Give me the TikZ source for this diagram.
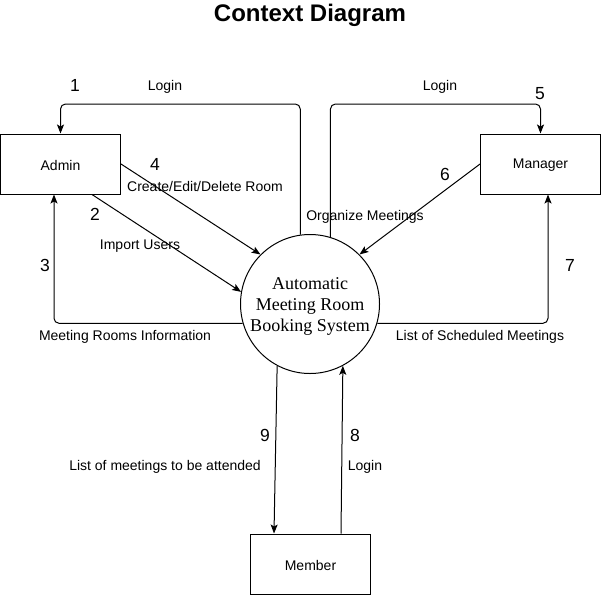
\documentclass[tikz,border=0pt]{standalone}
\usepackage{fontspec}
\setmainfont{Liberation Sans}
\newfontfamily\serifsys{Liberation Serif}
\usetikzlibrary{arrows.meta,calc}
\newcommand{\lowerby}[2]{\raisebox{-#1}[\height][\depth]{#2}}
\begin{document}
\begin{tikzpicture}[x=1pt,y=-1pt,
  box/.style={draw,line width=1pt,minimum width=120pt,minimum height=60pt,inner sep=0pt,font=\fontsize{14}{16}\selectfont},
  arr/.style={draw,line width=1pt,-{Stealth[length=9pt,width=7pt,inset=2pt]},rounded corners=5pt},
  lbl/.style={inner sep=0pt,yshift=-1.5pt,font=\fontsize{14}{16}\selectfont},
  num/.style={inner sep=0pt,yshift=-1pt,font=\fontsize{17.5}{20}\selectfont}]
\useasboundingbox (0,0) rectangle (601,595);
\fill[white] (0,0) rectangle (601,595);
\node[inner sep=0pt,font=\fontsize{24}{28}\bfseries\selectfont] (title) at (310,15) {Context Diagram};
\node[box] (admin) at (60.5,164) {\lowerby{1.5pt}{Admin}};
\node[box] (manager) at (540.5,164) {\lowerby{1.5pt}{Manager}};
\node[box] (member) at (310.5,564) {\lowerby{1.5pt}{Member}};
\node[draw,circle,line width=1pt,minimum size=139pt,inner sep=0pt,
  font=\serifsys\fontsize{18}{21}\selectfont] (sys) at (310,304)
  {\lowerby{2.5pt}{\begin{tabular}{@{}c@{}}Automatic\\Meeting Room\\Booking System\end{tabular}}};
% 1 Login (sys -> admin)
\draw[arr] (sys.98) -- (sys.98 |- 0,104) -- (admin.north |- 0,104) -- (admin.north);
% 5 Login (sys -> manager)
\draw[arr] (sys.73) -- (sys.73 |- 0,104) -- (manager.north |- 0,104) -- (manager.north);
% 4 admin -> sys
\draw[arr] (admin.east) -- (sys.135);
% 2 admin -> sys
\draw[arr] ([xshift=31.5pt]admin.south) -- (sys.170);
% 3 sys -> admin
\draw[arr] (sys.196) -| ([xshift=-6.5pt]admin.south);
% 6 manager -> sys
\draw[arr] (manager.west) -- (sys.45);
% 7 sys -> manager
\draw[arr] (sys.-16) -| ([xshift=7.5pt]manager.south);
% 9 sys -> member
\draw[arr] (sys.242) -- ([xshift=-36.5pt]member.north);
% 8 member -> sys
\draw[arr] ([xshift=30.5pt]member.north) -- (sys.298);
% labels
\node[num] (n1) at (75,84) {1};
\node[lbl] (l1) at (165,85) {Login};
\node[lbl] (l5) at (440,85) {Login};
\node[num] (n5) at (540,93) {5};
\node[num] (n4) at (155,163) {4};
\node[lbl] (l4) at (205,185) {Create/Edit/Delete Room};
\node[num] (n2) at (95,213) {2};
\node[lbl] (l2) at (140,245) {Import Users};
\node[num] (n3) at (45,264) {3};
\node[lbl] (l3) at (125,335) {Meeting Rooms Information};
\node[num] (n6) at (445,173) {6};
\node[lbl] (l6) at (365,215) {Organize Meetings};
\node[num] (n7) at (570,264) {7};
\node[lbl] (l7) at (480,335) {List of Scheduled Meetings};
\node[num] (n9) at (265,434) {9};
\node[lbl] (l9) at (165,465) {List of meetings to be attended};
\node[num] (n8) at (355,434) {8};
\node[lbl] (l8) at (365,465) {Login};
\end{tikzpicture}
\end{document}
